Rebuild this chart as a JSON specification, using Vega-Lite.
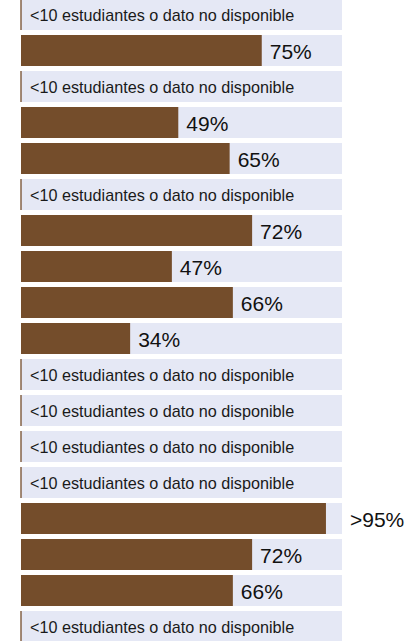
{
  "$schema": "https://vega.github.io/schema/vega-lite/v6.json",
  "width": 407,
  "height": 641,
  "autosize": "none",
  "padding": 0,
  "background": "white",
  "config": {"view": {"stroke": null}, "font": "Liberation Sans"},
  "data": {
    "values": [
      {"id": 1, "value": null, "label": "<10 estudiantes o dato no disponible"},
      {"id": 2, "value": 75, "label": "75%"},
      {"id": 3, "value": null, "label": "<10 estudiantes o dato no disponible"},
      {"id": 4, "value": 49, "label": "49%"},
      {"id": 5, "value": 65, "label": "65%"},
      {"id": 6, "value": null, "label": "<10 estudiantes o dato no disponible"},
      {"id": 7, "value": 72, "label": "72%"},
      {"id": 8, "value": 47, "label": "47%"},
      {"id": 9, "value": 66, "label": "66%"},
      {"id": 10, "value": 34, "label": "34%"},
      {"id": 11, "value": null, "label": "<10 estudiantes o dato no disponible"},
      {"id": 12, "value": null, "label": "<10 estudiantes o dato no disponible"},
      {"id": 13, "value": null, "label": "<10 estudiantes o dato no disponible"},
      {"id": 14, "value": null, "label": "<10 estudiantes o dato no disponible"},
      {"id": 15, "value": 95, "label": ">95%"},
      {"id": 16, "value": 72, "label": "72%"},
      {"id": 17, "value": 66, "label": "66%"},
      {"id": 18, "value": null, "label": "<10 estudiantes o dato no disponible"}
    ]
  },
  "encoding": {
    "y": {
      "field": "id",
      "type": "ordinal",
      "sort": null,
      "axis": null,
      "scale": {"range": [-3.5, 644.5], "paddingInner": 0.139, "paddingOuter": 0.0695}
    }
  },
  "layer": [
    {
      "mark": {"type": "bar", "color": "#e5e8f5"},
      "encoding": {
        "x": {"datum": 0, "type": "quantitative", "scale": {"domain": [0, 100], "range": [21, 342]}, "axis": null},
        "x2": {"datum": 100}
      }
    },
    {
      "transform": [{"filter": "datum.value != null"}],
      "mark": {"type": "bar", "color": "#744d2b"},
      "encoding": {
        "x": {"field": "value", "type": "quantitative"},
        "x2": {"datum": 0}
      }
    },
    {
      "transform": [{"filter": "datum.value == null"}],
      "mark": {"type": "tick", "color": "#744d2b", "orient": "vertical", "thickness": 1.3, "size": 31, "opacity": 1},
      "encoding": {
        "x": {"datum": 0, "type": "quantitative"}
      }
    },
    {
      "transform": [{"filter": "datum.value == null"}],
      "mark": {"type": "text", "align": "left", "baseline": "middle", "dx": 9, "dy": 1.5, "fontSize": 16.2, "color": "#1a1a1a"},
      "encoding": {
        "x": {"datum": 0, "type": "quantitative"},
        "text": {"field": "label"}
      }
    },
    {
      "transform": [{"filter": "datum.value != null && datum.value < 95"}],
      "mark": {"type": "text", "align": "left", "baseline": "middle", "dx": 8, "dy": 2, "fontSize": 21, "color": "#111111"},
      "encoding": {
        "x": {"field": "value", "type": "quantitative"},
        "text": {"field": "label"}
      }
    },
    {
      "transform": [{"filter": "datum.value >= 95"}],
      "mark": {"type": "text", "align": "left", "baseline": "middle", "dx": 8, "dy": 2, "fontSize": 21, "color": "#111111"},
      "encoding": {
        "x": {"datum": 100, "type": "quantitative"},
        "text": {"field": "label"}
      }
    }
  ]
}
